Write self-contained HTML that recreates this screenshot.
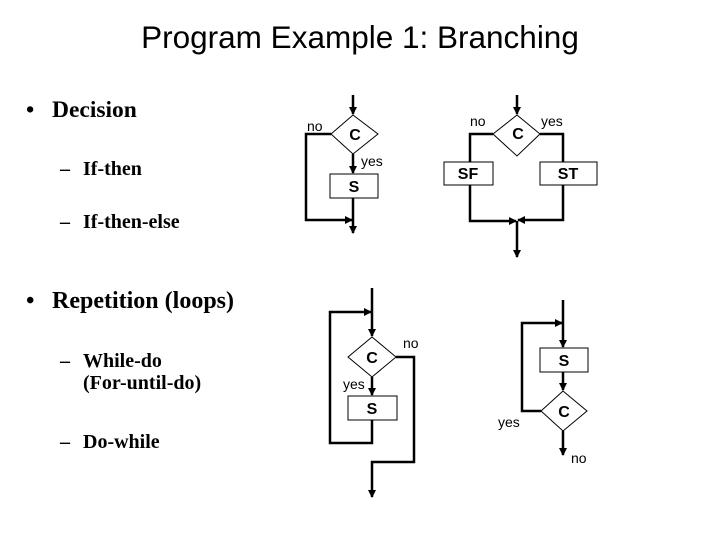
<!DOCTYPE html>
<html><head><style>body{margin:0;background:#fff}svg{display:block}</style></head><body>
<svg width="720" height="540" viewBox="0 0 720 540" xmlns="http://www.w3.org/2000/svg">
<defs><marker id="a" markerWidth="8" markerHeight="8" refX="7" refY="4" orient="auto" markerUnits="userSpaceOnUse"><path d="M0,0 L8,4 L0,8 z" fill="#000"/></marker></defs>
<g font-family="Liberation Sans, sans-serif">
<text x="360" y="48" font-size="31.5" text-anchor="middle">Program Example 1: Branching</text>
</g>
<g font-family="Liberation Serif, serif" font-weight="bold">
<text x="26" y="117" font-size="23.5">•</text><text x="52" y="117" font-size="23.5">Decision</text>
<text x="60" y="175" font-size="20">–</text><text x="83" y="175" font-size="20">If-then</text>
<text x="60" y="228" font-size="20">–</text><text x="83" y="228" font-size="20">If-then-else</text>
<text x="26" y="308" font-size="24">•</text><text x="52" y="308" font-size="24">Repetition (loops)</text>
<text x="60" y="367" font-size="20">–</text><text x="83" y="367" font-size="20">While-do</text>
<text x="83" y="389" font-size="20">(For-until-do)</text>
<text x="60" y="448" font-size="20">–</text><text x="83" y="448" font-size="20">Do-while</text>
</g>
<g stroke="#000" stroke-width="2.5" fill="none">
<line x1="353" y1="95" x2="353" y2="114" marker-end="url(#a)"/>
<polyline points="331,134 306,134 306,220 352,220" marker-end="url(#a)"/>
<line x1="353" y1="154" x2="353" y2="173" marker-end="url(#a)"/>
<line x1="353" y1="198" x2="353" y2="233" marker-end="url(#a)"/>
<line x1="517" y1="95" x2="517" y2="114" marker-end="url(#a)"/>
<polyline points="493,134 470,134 470,162"/>
<polyline points="540,134 563,134 563,162"/>
<polyline points="470,185 470,221 516,221" marker-end="url(#a)"/>
<polyline points="563,185 563,220 518,220" marker-end="url(#a)"/>
<line x1="517" y1="221" x2="517" y2="257" marker-end="url(#a)"/>
<line x1="372" y1="288" x2="372" y2="336" marker-end="url(#a)"/>
<polyline points="372,420 372,443 330,443 330,312 371,312" marker-end="url(#a)"/>
<line x1="372" y1="377" x2="372" y2="395" marker-end="url(#a)"/>
<polyline points="396,357 414,357 414,462 372,462 372,497" marker-end="url(#a)"/>
<line x1="563" y1="300" x2="563" y2="347" marker-end="url(#a)"/>
<line x1="563" y1="372" x2="563" y2="390" marker-end="url(#a)"/>
<polyline points="541,411 522,411 522,323 562,323" marker-end="url(#a)"/>
<line x1="563" y1="431" x2="563" y2="455" marker-end="url(#a)"/>
</g>
<g stroke="#000" stroke-width="1" fill="#fff">
<polygon points="331,134 353,115 378,134 353,154"/>
<rect x="330" y="174" width="48" height="24"/>
<polygon points="493,134 517,115 540,134 517,156"/>
<rect x="444" y="162" width="49" height="23"/>
<rect x="540" y="162" width="57" height="23"/>
<polygon points="348,357 372,337 396,357 372,377"/>
<rect x="348" y="396" width="49" height="24"/>
<rect x="540" y="348" width="48" height="24"/>
<polygon points="541,411 563,391 587,411 563,431"/>
</g>
<g font-family="Liberation Sans, sans-serif" font-size="14">
<g font-weight="bold" font-size="16" text-anchor="middle">
<text x="355" y="140">C</text><text x="354" y="192">S</text>
<text x="518" y="139">C</text><text x="468" y="179">SF</text><text x="568" y="179">ST</text>
<text x="372" y="363">C</text><text x="372" y="414">S</text>
<text x="564" y="366">S</text><text x="564" y="417">C</text>
</g>
<text x="307" y="131">no</text><text x="361" y="166">yes</text>
<text x="470" y="126">no</text><text x="541" y="126">yes</text>
<text x="403" y="348">no</text><text x="343" y="389">yes</text>
<text x="498" y="427">yes</text><text x="571" y="463">no</text>
</g>
</svg>
</body></html>
